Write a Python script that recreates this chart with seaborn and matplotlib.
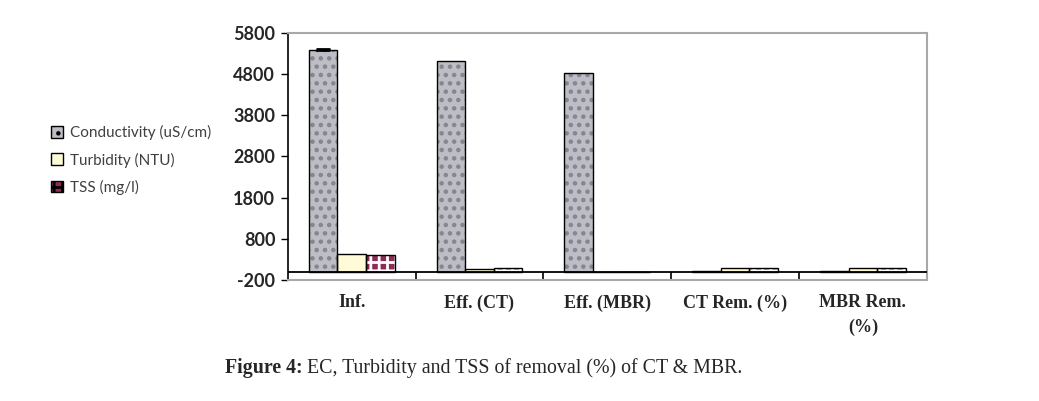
import pandas as pd
import matplotlib
matplotlib.use("Agg")
import matplotlib.pyplot as plt
import matplotlib.patches as mpatches
import seaborn as sns

# Chart values
groups = ['Inf.', 'Eff. (CT)', 'Eff. (MBR)', 'CT Rem. (%)', 'MBR Rem.\n(%)']
conductivity = [5380, 5110, 4830, 5, 10]
turbidity = [420, 70, 0, 83, 99]
tss = [400, 85, 0, 79, 99]
cond_err = [30, 0, 0, 0, 0]
series_names = ['Conductivity (uS/cm)', 'Turbidity (NTU)', 'TSS (mg/l)']
y_ticks = [-200, 800, 1800, 2800, 3800, 4800, 5800]

# Long-form table for seaborn
df = pd.DataFrame({
    'group': groups * 3,
    'param': [series_names[0]] * 5 + [series_names[1]] * 5 + [series_names[2]] * 5,
    'value': conductivity + turbidity + tss,
})

sns.set_style('white')
plt.rcParams['hatch.linewidth'] = 2.0

face = {series_names[0]: '#bdbdc5', series_names[1]: '#fffbd8', series_names[2]: '#8e2c56'}
hatch = {series_names[0]: '..', series_names[1]: '', series_names[2]: '++'}
hatch_col = {series_names[0]: '#85858d', series_names[1]: '#fffbd8', series_names[2]: '#ffffff'}

fig = plt.figure(figsize=(10.39, 4.01), dpi=100)
ax = fig.add_axes([0.277, 0.302, 0.615, 0.616])

sns.barplot(data=df, x='group', y='value', hue='param', hue_order=series_names,
            palette=face, width=0.67, saturation=1, errorbar=None, legend=False, ax=ax)

# hatch + black outline for each bar
for i, name in enumerate(series_names):
    cont = ax.containers[i]
    for p in cont.patches:
        p.set_hatch(hatch[name])
        p.set_edgecolor(hatch_col[name])
        p.set_linewidth(0)
        ax.add_patch(mpatches.Rectangle(p.get_xy(), p.get_width(), p.get_height(),
                                        fill=False, edgecolor='black', lw=1.0, zorder=3))

# error bar on conductivity (only where there is one)
cond_bars = ax.containers[0].patches
pts = [(p.get_x() + p.get_width() / 2, v, e) for p, v, e in zip(cond_bars, conductivity, cond_err) if e > 0]
ax.errorbar([q[0] for q in pts], [q[1] for q in pts], yerr=[[0] * len(pts), [q[2] for q in pts]],
            fmt='none', ecolor='black', elinewidth=1, capsize=5, capthick=2, zorder=4)

ax.set_ylim(-200, 5800)
ax.set_xlim(-0.5, 4.5)
ax.set_yticks(y_ticks)
ax.set_yticklabels([str(t) for t in y_ticks], fontfamily='Lato', fontweight='bold', fontsize=13)
ax.set_xticklabels(groups, fontfamily='Liberation Serif', fontweight='bold', fontsize=13)
for t in ax.get_xticklabels():
    t.set_linespacing(1.55)
ax.tick_params(axis='y', which='major', left=True, length=5, width=1, color='black', pad=4)
ax.tick_params(axis='x', bottom=False, pad=7)
ax.set_xlabel('')
ax.set_ylabel('')

# zero line and group separators
ax.axhline(0, color='black', lw=1.3, zorder=5)
ax.vlines([0.5, 1.5, 2.5, 3.5], -200, 0, color='black', lw=1.2)
ax.spines['left'].set_color('black')
ax.spines['left'].set_linewidth(1.2)
for s in ['top', 'right', 'bottom']:
    ax.spines[s].set_color('#a8a8a8')
    ax.spines[s].set_linewidth(1.5)

# legend at the left
handles = [mpatches.Patch(facecolor=face[n], edgecolor='black', hatch=hatch[n]) for n in series_names]
leg = fig.legend(handles, series_names, loc='upper left', bbox_to_anchor=(0.036, 0.722),
                 frameon=False, handlelength=0.8, handleheight=0.8, handletextpad=0.45,
                 labelspacing=0.8, prop={'family': 'Lato', 'size': 11})
for t in leg.get_texts():
    t.set_color('#404040')

# caption
fig.canvas.draw()
cap1 = fig.text(0.217, 0.082, 'Figure 4:', fontfamily='Liberation Serif', fontweight='bold',
                fontsize=14.3, va='center')
r = fig.canvas.get_renderer()
bb = cap1.get_window_extent(renderer=r)
fig.text((bb.x1 + 4) / fig.bbox.width, 0.082, 'EC, Turbidity and TSS of removal (%) of CT & MBR.',
         fontfamily='Liberation Serif', fontsize=14.3, va='center')

fig.savefig('out.png', dpi=100)
